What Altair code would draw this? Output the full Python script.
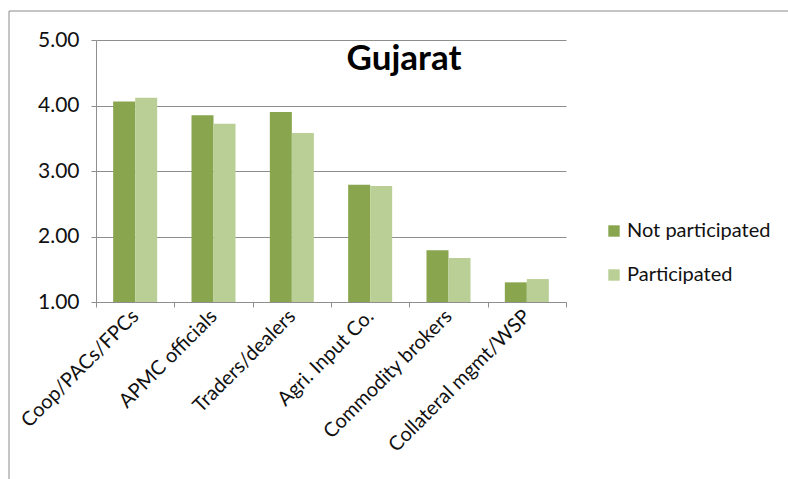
import altair as alt
import pandas as pd

categories = ["Coop/PACs/FPCs", "APMC officials", "Traders/dealers",
              "Agri. Input Co.", "Commodity brokers", "Collateral mgmt/WSP"]
series_names = ["Not participated", "Participated"]
not_participated = [4.06, 3.85, 3.90, 2.79, 1.79, 1.30]
participated = [4.12, 3.72, 3.58, 2.77, 1.67, 1.35]
y_ticks = [1, 2, 3, 4, 5]
y_base = 1
title_text = "Gujarat"

colors = ["#89A54E", "#BACF96"]
FONT = "Lato"
GRID = "#8E8E8E"

rows = []
for c, a, b in zip(categories, not_participated, participated):
    rows.append({"cat": c, "series": series_names[0], "value": a})
    rows.append({"cat": c, "series": series_names[1], "value": b})
df = pd.DataFrame(rows)

W, H = 470, 262

bars = alt.Chart(df).mark_bar(size=22).encode(
    x=alt.X("cat:N", sort=categories, title=None,
            scale=alt.Scale(paddingInner=0, paddingOuter=0),
            axis=alt.Axis(labelAngle=-45, labelFontSize=20, labelFont=FONT,
                          labelColor="#111", tickBand="extent", tickSize=5,
                          tickColor=GRID, domainColor=GRID, labelPadding=6,
                          labelAlign="right", labelBaseline="middle",
                          labelLimit=400, labelOverlap=False)),
    xOffset=alt.XOffset("series:N", sort=series_names,
                        scale=alt.Scale(paddingInner=0, paddingOuter=0.78)),
    y=alt.Y("value:Q", title=None,
            scale=alt.Scale(domain=[1, 5], nice=False, zero=False),
            axis=alt.Axis(values=y_ticks, format=".2f", labelFontSize=21,
                          labelFont=FONT, labelColor="#111", tickSize=5,
                          tickColor=GRID, domainColor=GRID, gridColor=GRID,
                          labelPadding=12, grid=True)),
    y2=alt.datum(y_base),
    color=alt.Color("series:N", sort=series_names,
                    scale=alt.Scale(domain=series_names, range=colors),
                    legend=alt.Legend(title=None, orient="none", legendX=508,
                                      legendY=181, symbolType="square",
                                      symbolSize=130, symbolStrokeWidth=0,
                                      labelFontSize=20, labelFont=FONT,
                                      labelColor="#111", rowPadding=24,
                                      labelOffset=3)),
)

title = alt.Chart(pd.DataFrame({"t": [title_text]})).mark_text(
    font=FONT, fontSize=35, fontWeight="bold", color="#000",
    align="center", baseline="alphabetic",
).encode(x=alt.value(308), y=alt.value(30), text="t:N")

frame_v = alt.Chart(pd.DataFrame({"k": [0]})).mark_rule(
    color="#8A8A8A", strokeWidth=1, clip=False
).encode(x=alt.value(-87), y=alt.value(-29), y2=alt.value(H + 180))

frame_h = alt.Chart(pd.DataFrame({"k": [0]})).mark_rule(
    color="#8A8A8A", strokeWidth=1, clip=False
).encode(x=alt.value(-87), x2=alt.value(W + 230), y=alt.value(-29))

chart = alt.layer(bars, title, frame_v, frame_h).properties(
    width=W, height=H,
    padding={"left": 96, "top": 40, "right": 222, "bottom": 177},
    autosize=alt.AutoSizeParams(type="none"),
    background="white",
).configure_view(stroke=None)

chart.save("out.html", embed_options={"renderer": "svg", "actions": False})
